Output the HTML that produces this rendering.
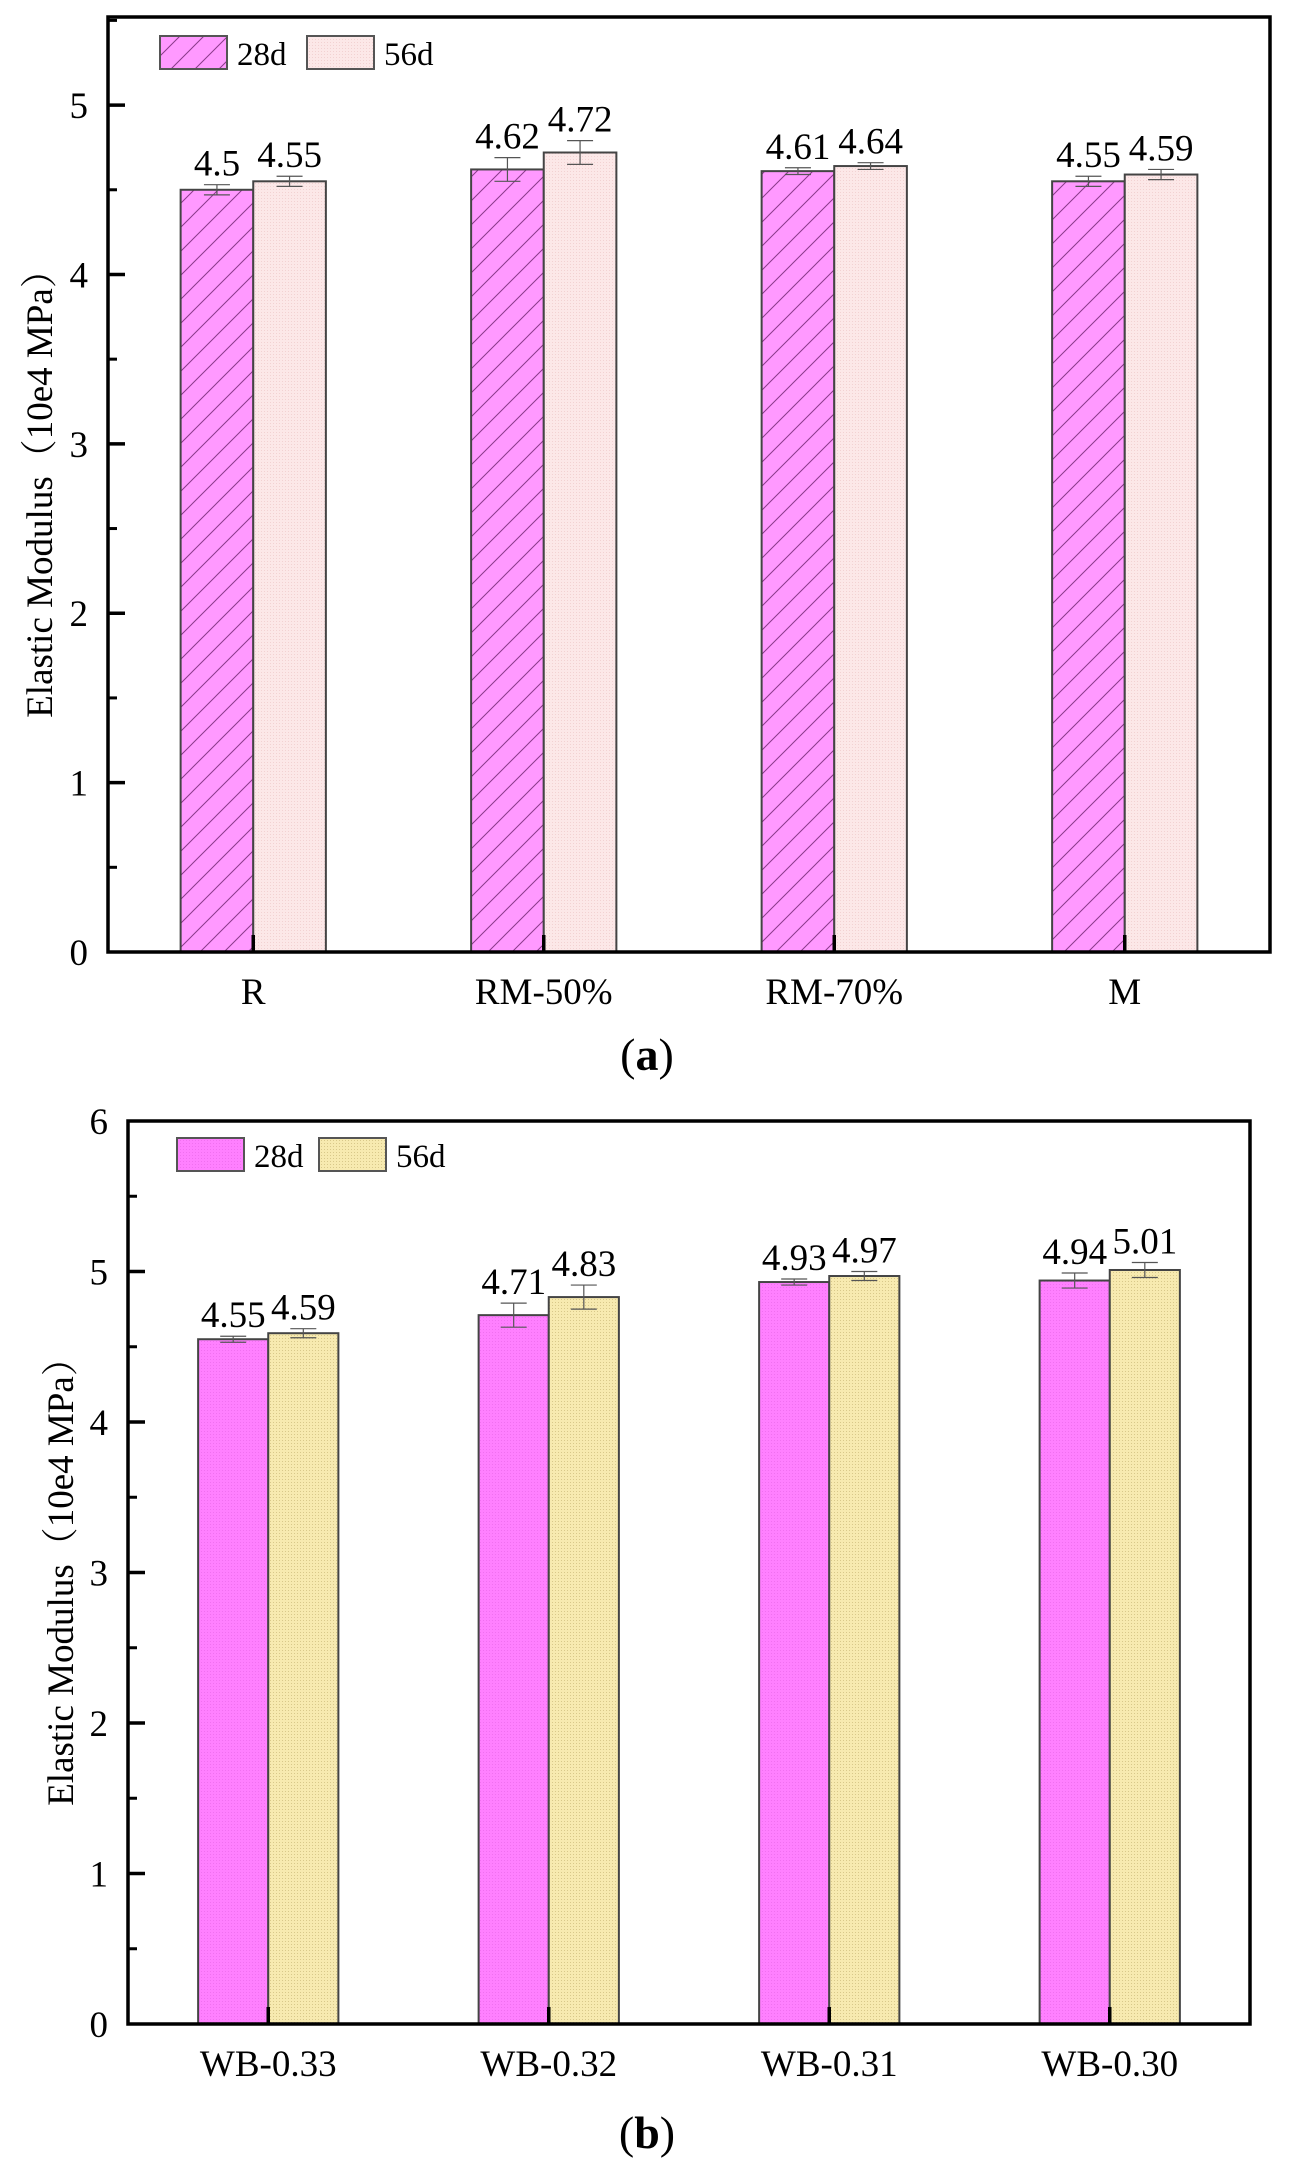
<!DOCTYPE html>
<html><head><meta charset="utf-8"><style>
body{margin:0;background:#fff}
svg{display:block;font-family:"Liberation Serif","Noto Serif CJK SC",serif}
</style></head><body>
<svg id="s" width="1292" height="2173" viewBox="0 0 1292 2173">
<defs>
<pattern id="hatch" patternUnits="userSpaceOnUse" width="24" height="24">
<rect width="24" height="24" fill="#ff99ff"/>
<path d="M-6,30 L30,-6 M-18,18 L18,-18 M6,42 L42,6" stroke="#8a3a8a" stroke-width="1"/>
</pattern>
<pattern id="dotPink" patternUnits="userSpaceOnUse" width="3" height="3">
<rect width="3" height="3" fill="#fce8e8"/><rect width="1" height="1" fill="#f2d2d2"/>
</pattern>
<pattern id="dotMag" patternUnits="userSpaceOnUse" width="3" height="3">
<rect width="3" height="3" fill="#ff80ff"/><rect width="1" height="1" fill="#f070f0"/>
</pattern>
<pattern id="dotYel" patternUnits="userSpaceOnUse" width="3" height="3">
<rect width="3" height="3" fill="#f7eab0"/><rect width="1" height="1" fill="#d8c88a"/>
</pattern>
</defs>
</svg>
<script>
const catsA=["R","RM-50%","RM-70%","M"];
const a28=[4.5,4.62,4.61,4.55];
const a56=[4.55,4.72,4.64,4.59];
const a28err=[0.03,0.07,0.02,0.03];
const a56err=[0.03,0.07,0.02,0.03];
const ticksA=[0,1,2,3,4,5];
const catsB=["WB-0.33","WB-0.32","WB-0.31","WB-0.30"];
const b28=[4.55,4.71,4.93,4.94];
const b56=[4.59,4.83,4.97,5.01];
const b28err=[0.02,0.08,0.02,0.05];
const b56err=[0.03,0.08,0.03,0.05];
const ticksB=[0,1,2,3,4,5,6];

const NS="http://www.w3.org/2000/svg";
const svg=document.getElementById('s');
function mk(tag,attrs,parent,text){const e=document.createElementNS(NS,tag);for(const k in attrs)e.setAttribute(k,attrs[k]);if(text!==undefined)e.textContent=text;(parent||svg).appendChild(e);return e;}

function chart(o){
  const g=mk('g',{});
  
  
  const y=v=>o.y0-(v/o.ymax)*(o.y0-o.top);
  const bw=(o.right-o.left)/o.cats.length;
  const xc=i=>o.left+bw*(i+0.5);
  const w=bw*0.25;
  [[o.s1,o.e1,o.f1,-1,'28d'],[o.s2,o.e2,o.f2,0,'56d']].forEach(([vals,errs,fill,off,nm])=>{
    vals.forEach((v,i)=>{
      const x=xc(i)+off*w;
      const r=mk('rect',{x:x,y:y(v),width:w,height:o.y0-y(v),fill:fill,stroke:'#444','stroke-width':2},g);
      
      
      const cx=x+w/2,ey1=y(v+errs[i]),ey2=y(v-errs[i]);
      const eb=mk('path',{d:`M${cx},${ey1}V${ey2}M${cx-13},${ey1}H${cx+13}M${cx-13},${ey2}H${cx+13}`,stroke:'#555','stroke-width':1.2,fill:'none'},g);
      
      
      const t=mk('text',{x:cx,y:Math.min(ey1,y(v))-9,'text-anchor':'middle','font-size':37},g,String(v));
      
      
    });
  });
  const fr=mk('rect',{x:o.left,y:o.top,width:o.right-o.left,height:o.y0-o.top,fill:'none',stroke:'#000','stroke-width':3.5},g);
  
  
  o.ticks.forEach(t=>{
    const ty=y(t);
    if(t>0&&t<o.ymax) mk('line',{x1:o.left,x2:o.left+17,y1:ty,y2:ty,stroke:'#000','stroke-width':3.5},g);
    if(t+0.5<o.ymax) mk('line',{x1:o.left,x2:o.left+9,y1:y(t+0.5),y2:y(t+0.5),stroke:'#000','stroke-width':3},g);
    const l=mk('text',{x:o.left-20,y:ty+13,'text-anchor':'end','font-size':37},g,String(t));
    
    
  });
  o.cats.forEach((c,i)=>{
    mk('line',{x1:xc(i),x2:xc(i),y1:o.y0,y2:o.y0-17,stroke:'#000','stroke-width':3.5},g);
    const l=mk('text',{x:xc(i),y:o.y0+52,'text-anchor':'middle','font-size':37},g,c);
    
    
  });
  const yt=mk('text',{x:0,y:0,'text-anchor':'middle','font-size':37,transform:`translate(${o.ytx},${(o.top+o.y0)/2}) rotate(-90)`},g,'Elastic Modulus（10e4 MPa）');
  
  
  o.leg.forEach(([lx,fill,txt])=>{
    const r=mk('rect',{x:lx,y:o.legY,width:67,height:33,fill:fill,stroke:'#555','stroke-width':2},g);
    
    
    const t=mk('text',{x:lx+77,y:o.legY+29,'font-size':33},g,txt);
    
    
  });
  const cap=mk('text',{x:647,y:o.capY,'text-anchor':'middle','font-size':46},g);
  
  
  mk('tspan',{},cap,'(');mk('tspan',{'font-weight':'bold'},cap,o.cap);mk('tspan',{},cap,')');
}
chart({name:'chart-a',cats:catsA,s1:a28,s2:a56,e1:a28err,e2:a56err,ticks:ticksA,ymax:5.52,left:108,right:1270,top:17,y0:952,
  f1:'url(#hatch)',f2:'url(#dotPink)',ytx:52,legY:36,leg:[[160,'url(#hatch)','28d'],[307,'url(#dotPink)','56d']],capY:1070,cap:'a'});
chart({name:'chart-b',cats:catsB,s1:b28,s2:b56,e1:b28err,e2:b56err,ticks:ticksB,ymax:6,left:128,right:1250,top:1121,y0:2024,
  f1:'url(#dotMag)',f2:'url(#dotYel)',ytx:73,legY:1138,leg:[[177,'url(#dotMag)','28d'],[319,'url(#dotYel)','56d']],capY:2148,cap:'b'});
</script>
</body></html>
